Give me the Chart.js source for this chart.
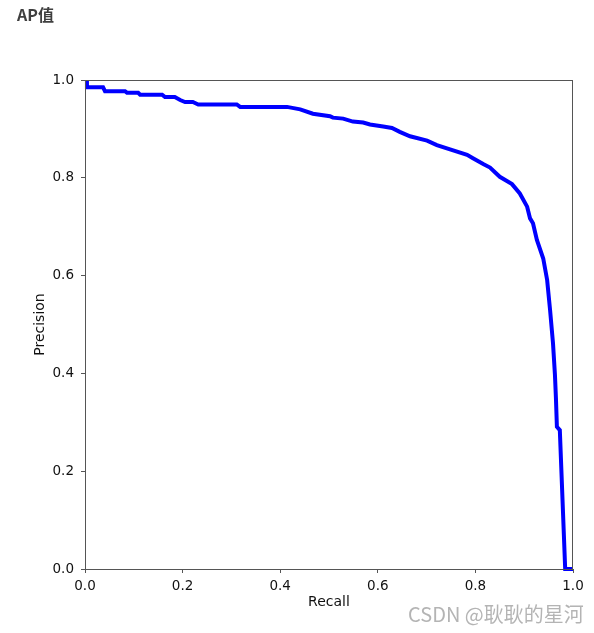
<!DOCTYPE html>
<html>
<head>
<meta charset="utf-8">
<script src="https://cdn.jsdelivr.net/npm/chart.js@4"></script>
<style>
    body { margin: 0; background: #fff; }
    #wrap { position: relative; width: 594px; height: 633px; }
    #title { position: absolute; left: 17px; top: 4px; font: bold 16px "Noto Sans CJK SC", sans-serif; line-height: 20px; color: #3f3f3f; }
    #mark { position: absolute; left: 408px; top: 601px; font: 20px "Noto Sans CJK SC", sans-serif; line-height: 26px; color: #b4b4b4; white-space: nowrap; }
</style>
</head>
<body>
<div id="wrap">
    <canvas id="prChart"></canvas>
    <div id="title">AP值</div>
    <div id="mark">CSDN @耿耿的星河</div>
</div>
<script>
// PR-кривая, значения
const recall = [
    0.004, 0.004, 0.037, 0.041, 0.082, 0.086, 0.109, 0.113, 0.158, 0.164,
    0.184, 0.195, 0.205, 0.221, 0.232, 0.311, 0.318, 0.414, 0.441, 0.467,
    0.502, 0.508, 0.529, 0.549, 0.570, 0.584, 0.611, 0.629, 0.645, 0.666,
    0.701, 0.721, 0.748, 0.783, 0.795, 0.816, 0.830, 0.850, 0.875, 0.891,
    0.906, 0.912, 0.918, 0.926, 0.939, 0.947, 0.953, 0.959, 0.963, 0.965,
    0.967, 0.973, 0.984, 1.0
];
const precision = [
    1.0, 0.985, 0.985, 0.977, 0.977, 0.974, 0.974, 0.970, 0.970, 0.965,
    0.965, 0.959, 0.955, 0.955, 0.950, 0.950, 0.945, 0.945, 0.940, 0.931,
    0.926, 0.923, 0.921, 0.915, 0.913, 0.909, 0.905, 0.902, 0.894, 0.885,
    0.876, 0.867, 0.858, 0.847, 0.840, 0.828, 0.821, 0.802, 0.787, 0.768,
    0.741, 0.717, 0.707, 0.673, 0.635, 0.591, 0.530, 0.462, 0.397, 0.350,
    0.291, 0.284, 0.0, 0.0
];
const tickValues = [0, 0.2, 0.4, 0.6, 0.8, 1.0];

const axisColor = "#555";
const tickFont = { family: "DejaVu Sans", size: 13.5 };
const titleFont = { family: "DejaVu Sans", size: 14 };

// рамка со всех четырёх сторон, как у matplotlib
const framePlugin = {
    id: "frame",
    afterDatasetsDraw(chart) {
        const { ctx, chartArea: a } = chart;
        ctx.save();
        ctx.strokeStyle = axisColor;
        ctx.lineWidth = 1;
        ctx.strokeRect(a.left + 0.5, a.top + 0.5, a.width - 1, a.height);
        ctx.restore();
    }
};

const ctx = document.getElementById("prChart").getContext("2d");
new Chart(ctx, {
    type: "line",
    data: {
        datasets: [{
            data: recall.map((r, i) => ({ x: r, y: precision[i] })),
            borderColor: "#0000ff",
            borderWidth: 4,
            pointRadius: 0,
            tension: 0,
            fill: false,
            clip: false
        }]
    },
    options: {
        responsive: true,
        maintainAspectRatio: false,
        animation: false,
        layout: { padding: { top: 80, right: 21, left: 0, bottom: 0 } },
        plugins: { legend: { display: false }, tooltip: { enabled: false } },
        scales: {
            x: {
                type: "linear", min: 0, max: 1,
                afterFit: s => { s.height = 64; },
                afterBuildTicks: s => { s.ticks = tickValues.map(v => ({ value: v })); },
                ticks: { color: "#111", font: tickFont, padding: 5, maxRotation: 0, callback: v => v.toFixed(1) },
                grid: { drawOnChartArea: false, tickLength: 4, color: axisColor },
                border: { display: false },
                title: { display: true, text: "Recall", color: "#111", font: titleFont, padding: { bottom: 22 } }
            },
            y: {
                type: "linear", min: 0, max: 1,
                afterFit: s => { s.width = 85; },
                afterBuildTicks: s => { s.ticks = tickValues.map(v => ({ value: v })); },
                ticks: { color: "#111", font: tickFont, padding: 7, callback: v => v.toFixed(1) },
                grid: { drawOnChartArea: false, tickLength: 4, color: axisColor },
                border: { display: false },
                title: { display: true, text: "Precision", color: "#111", font: titleFont, padding: { top: 32 } }
            }
        }
    },
    plugins: [framePlugin]
});
</script>
</body>
</html>
